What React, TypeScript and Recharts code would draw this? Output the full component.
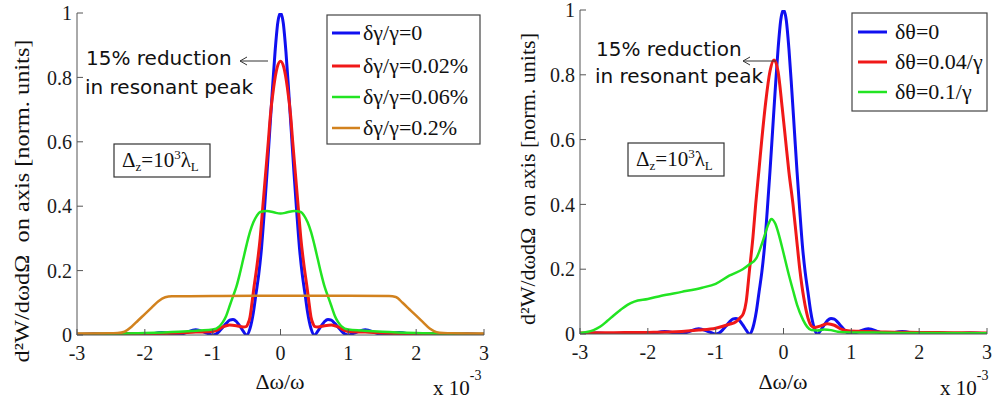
import React from 'react';
import { LineChart, Line, XAxis, YAxis } from 'recharts';

// tick values
const xTicks = [-3, -2, -1, 0, 1, 2, 3];
const yTicks = [0, 0.2, 0.4, 0.6, 0.8, 1];

// [Δω/ω (x1e-3), normalized intensity]
const noSpread: number[][] = [
  [-3, 0], [-2.75, 0.003], [-2.5, 0], [-2.25, 0.005], [-2, 0], [-1.75, 0.008], [-1.5, 0], [-1.4, 0.007],
  [-1.25, 0.016], [-1.1, 0.007], [-1, 0], [-0.95, 0.003], [-0.9, 0.012], [-0.85, 0.024], [-0.8, 0.036],
  [-0.75, 0.046], [-0.7, 0.048], [-0.65, 0.042], [-0.6, 0.028], [-0.55, 0.012], [-0.5, 0], [-0.45, 0.02],
  [-0.4, 0.07], [-0.36, 0.13], [-0.32, 0.19], [-0.28, 0.27], [-0.24, 0.38], [-0.2, 0.5], [-0.16, 0.63],
  [-0.12, 0.76], [-0.08, 0.88], [-0.04, 0.97], [0, 1], [0.04, 0.97], [0.08, 0.88], [0.12, 0.76], [0.16, 0.63],
  [0.2, 0.5], [0.24, 0.38], [0.28, 0.27], [0.32, 0.19], [0.36, 0.13], [0.4, 0.07], [0.45, 0.02], [0.5, 0],
  [0.55, 0.012], [0.6, 0.028], [0.65, 0.042], [0.7, 0.048], [0.75, 0.046], [0.8, 0.036], [0.85, 0.024],
  [0.9, 0.012], [0.95, 0.003], [1, 0], [1.1, 0.007], [1.25, 0.016], [1.4, 0.007], [1.5, 0], [1.75, 0.008],
  [2, 0], [2.25, 0.005], [2.5, 0], [2.75, 0.003], [3, 0],
];

const gamma002: number[][] = [
  [-3, 0.003], [-2.5, 0.004], [-2, 0.004], [-1.5, 0.006], [-1.25, 0.009], [-1.05, 0.01], [-0.95, 0.014],
  [-0.85, 0.025], [-0.75, 0.031], [-0.65, 0.029], [-0.55, 0.025], [-0.5, 0.027], [-0.48, 0.035], [-0.45, 0.055],
  [-0.42, 0.1], [-0.39, 0.15], [-0.35, 0.21], [-0.3, 0.3], [-0.26, 0.4], [-0.22, 0.5], [-0.18, 0.6],
  [-0.15, 0.68], [-0.1, 0.77], [-0.05, 0.83], [0, 0.85], [0.05, 0.83], [0.1, 0.77], [0.15, 0.68], [0.18, 0.6],
  [0.22, 0.5], [0.26, 0.4], [0.3, 0.3], [0.35, 0.21], [0.39, 0.15], [0.42, 0.1], [0.45, 0.055], [0.48, 0.035],
  [0.5, 0.027], [0.55, 0.025], [0.65, 0.029], [0.75, 0.031], [0.85, 0.025], [0.95, 0.014], [1.05, 0.01],
  [1.25, 0.009], [1.5, 0.006], [2, 0.004], [2.5, 0.004], [3, 0.003],
];

const gamma006: number[][] = [
  [-3, 0.003], [-2.5, 0.004], [-2, 0.006], [-1.5, 0.01], [-1.2, 0.014], [-1, 0.017], [-0.9, 0.027],
  [-0.85, 0.04], [-0.8, 0.06], [-0.75, 0.09], [-0.7, 0.12], [-0.65, 0.15], [-0.6, 0.19], [-0.55, 0.235],
  [-0.5, 0.28], [-0.45, 0.32], [-0.4, 0.35], [-0.35, 0.37], [-0.3, 0.382], [-0.2, 0.385], [-0.1, 0.381],
  [0, 0.377], [0.1, 0.381], [0.2, 0.385], [0.3, 0.382], [0.35, 0.37], [0.4, 0.35], [0.45, 0.32], [0.5, 0.28],
  [0.55, 0.235], [0.6, 0.19], [0.65, 0.15], [0.7, 0.12], [0.75, 0.09], [0.8, 0.06], [0.85, 0.04], [0.9, 0.027],
  [1, 0.017], [1.2, 0.014], [1.5, 0.01], [2, 0.006], [2.5, 0.004], [3, 0.003],
];

const gamma02: number[][] = [
  [-3, 0.004], [-2.6, 0.005], [-2.4, 0.006], [-2.3, 0.01], [-2.2, 0.025], [-2.1, 0.045], [-2, 0.065],
  [-1.9, 0.085], [-1.8, 0.105], [-1.7, 0.117], [-1.6, 0.12], [-1, 0.121], [0, 0.122], [1, 0.122],
  [1.6, 0.121], [1.7, 0.118], [1.8, 0.1], [1.9, 0.08], [2, 0.06], [2.1, 0.04], [2.2, 0.02], [2.3, 0.009],
  [2.4, 0.006], [2.6, 0.005], [3, 0.004],
];

const theta004: number[][] = [
  [-3, 0.003], [-2.5, 0.004], [-2, 0.005], [-1.5, 0.008], [-1.25, 0.012], [-1, 0.018], [-0.8, 0.03],
  [-0.7, 0.038], [-0.64, 0.05], [-0.59, 0.064], [-0.55, 0.1], [-0.5, 0.2], [-0.45, 0.3], [-0.41, 0.4],
  [-0.36, 0.51], [-0.32, 0.6], [-0.26, 0.72], [-0.2, 0.81], [-0.14, 0.846], [-0.08, 0.81], [-0.02, 0.7],
  [0.03, 0.6], [0.08, 0.5], [0.14, 0.4], [0.19, 0.3], [0.24, 0.2], [0.3, 0.11], [0.36, 0.05], [0.41, 0.025],
  [0.45, 0.02], [0.55, 0.025], [0.65, 0.032], [0.75, 0.027], [0.85, 0.015], [0.95, 0.01], [1.2, 0.008],
  [1.5, 0.006], [2, 0.005], [2.5, 0.004], [3, 0.003],
];

const theta01: number[][] = [
  [-3, 0.003], [-2.9, 0.006], [-2.8, 0.012], [-2.7, 0.023], [-2.6, 0.04], [-2.5, 0.058], [-2.4, 0.075],
  [-2.3, 0.09], [-2.2, 0.1], [-2, 0.108], [-1.8, 0.118], [-1.5, 0.13], [-1.2, 0.143], [-1, 0.155],
  [-0.8, 0.18], [-0.6, 0.2], [-0.5, 0.215], [-0.4, 0.234], [-0.3, 0.29], [-0.22, 0.34], [-0.18, 0.355],
  [-0.12, 0.34], [-0.06, 0.3], [0, 0.25], [0.07, 0.19], [0.14, 0.135], [0.2, 0.09], [0.29, 0.043],
  [0.35, 0.022], [0.41, 0.012], [0.5, 0.011], [0.6, 0.014], [0.7, 0.012], [0.8, 0.007], [1, 0.005],
  [1.5, 0.004], [2, 0.003], [3, 0.002],
];

const leftNames = ['δγ/γ=0', 'δγ/γ=0.02%', 'δγ/γ=0.06%', 'δγ/γ=0.2%'];
const rightNames = ['δθ=0', 'δθ=0.04/γ', 'δθ=0.1/γ'];

const BLUE = '#1010f0';
const RED = '#f01818';
const GREEN = '#22e422';
const ORANGE = '#d2821e';

type Series = { name: string; data: number[][]; color: string; width: number };

const leftSeries: Series[] = [
  { name: leftNames[0], data: noSpread, color: BLUE, width: 3 },
  { name: leftNames[1], data: gamma002, color: RED, width: 3 },
  { name: leftNames[2], data: gamma006, color: GREEN, width: 2.5 },
  { name: leftNames[3], data: gamma02, color: ORANGE, width: 2.5 },
];

const rightSeries: Series[] = [
  { name: rightNames[0], data: noSpread, color: BLUE, width: 3 },
  { name: rightNames[1], data: theta004, color: RED, width: 3 },
  { name: rightNames[2], data: theta01, color: GREEN, width: 2.5 },
];

const SERIF = 'Liberation Serif, DejaVu Serif, serif';
const SANS = 'DejaVu Sans, Verdana, sans-serif';
const AXIS = '#555';

const toPts = (pairs: number[][]) => pairs.map(([x, y]) => ({ x, y }));

function axes(yWidth: number, xHeight: number) {
  const tickStyle = { fill: '#1a1a1a', fontSize: 20, fontFamily: SERIF, style: { fontFamily: SERIF } };
  return [
    <XAxis key="xb" type="number" dataKey="x" domain={[-3, 3]} ticks={xTicks} interval={0} allowDataOverflow
      height={xHeight} tickSize={-6} tickMargin={17} stroke={AXIS} tick={tickStyle} />,
    <XAxis key="xt" xAxisId="top" orientation="top" type="number" dataKey="x" domain={[-3, 3]} ticks={xTicks}
      interval={0} allowDataOverflow height={0} tickSize={-6} tick={false} stroke={AXIS} />,
    <YAxis key="yl" type="number" domain={[0, 1]} ticks={yTicks} interval={0} allowDataOverflow width={yWidth}
      tickSize={-6} tickMargin={11} stroke={AXIS} tick={tickStyle} />,
    <YAxis key="yr" yAxisId="right" orientation="right" type="number" domain={[0, 1]} ticks={yTicks} interval={0}
      allowDataOverflow width={0} tickSize={-6} tick={false} stroke={AXIS} />,
  ];
}

function Legend({ series, x, y, w, h, rowY, lineX, textX }: {
  series: Series[]; x: number; y: number; w: number; h: number; rowY: number[]; lineX: number[]; textX: number;
}) {
  return (
    <g>
      <rect x={x} y={y} width={w} height={h} fill="#fff" stroke="#444" strokeWidth={1.2} />
      {series.map((s, i) => (
        <g key={s.name}>
          <line x1={lineX[0]} x2={lineX[1]} y1={rowY[i]} y2={rowY[i]} stroke={s.color} strokeWidth={s.width} />
          <text x={textX} y={rowY[i] + 7} style={{ fontFamily: SERIF, fontSize: 22 }} fill="#111">{s.name}</text>
        </g>
      ))}
    </g>
  );
}

function DeltaBox({ x, y }: { x: number; y: number }) {
  return (
    <g>
      <rect x={x} y={y} width={96} height={33} fill="#fff" stroke="#333" strokeWidth={1.2} />
      <text x={x + 8} y={y + 23} style={{ fontFamily: SERIF, fontSize: 21 }} fill="#111">
        Δ<tspan fontSize={13} dy={4}>z</tspan><tspan dy={-4}>=10</tspan>
        <tspan fontSize={13} dy={-8}>3</tspan><tspan dy={8}>λ</tspan>
        <tspan fontSize={13} dy={4}>L</tspan>
      </text>
    </g>
  );
}

function Annotation({ x, y1, y2, ax1, ax2, ay }: { x: number; y1: number; y2: number; ax1: number; ax2: number; ay: number }) {
  return (
    <g style={{ fontFamily: SANS, fontSize: 20 }} fill="#111">
      <text x={x} y={y1}>15% reduction</text>
      <text x={x - 1} y={y2}>in resonant peak</text>
      <line x1={ax1} x2={ax2} y1={ay} y2={ay} stroke="#333" strokeWidth={1} />
      <polyline points={`${ax1 + 7},${ay - 4} ${ax1},${ay} ${ax1 + 7},${ay + 4}`} fill="none" stroke="#333" strokeWidth={1} />
    </g>
  );
}

function AxisTexts({ yx, yy, yLen, xx, expX, base }: { yx: number; yy: number; yLen: number; xx: number; expX: number; base: number }) {
  return (
    <g style={{ fontFamily: SERIF }} fill="#111">
      <text x={yx} y={yy} fontSize={21} textAnchor="middle" transform={`rotate(-90 ${yx} ${yy})`}
        textLength={yLen} lengthAdjust="spacingAndGlyphs" style={{ whiteSpace: 'pre', fontFamily: SERIF }}>
        {'d²W/dωdΩ  on axis [norm. units]'}
      </text>
      <text x={xx} y={base - 6} fontSize={22} textAnchor="middle">Δω/ω</text>
      <text x={expX} y={base} fontSize={21}>
        x 10<tspan fontSize={14} dy={-15}>-3</tspan>
      </text>
    </g>
  );
}

function Panel({ left, width, margin, yWidth, xHeight, series, children }: {
  left: number; width: number; margin: { top: number; right: number; bottom: number; left: number };
  yWidth: number; xHeight: number; series: Series[]; children: React.ReactNode;
}) {
  return (
    <div style={{ position: 'absolute', left, top: 0, width, height: 404 }}>
      <LineChart width={width} height={404} margin={margin} style={{ fontFamily: SERIF }}>
        {axes(yWidth, xHeight)}
        {series.map((s) => (
          <Line key={s.name} name={s.name} data={toPts(s.data)} dataKey="y" type="monotone" stroke={s.color}
            strokeWidth={s.width} dot={false} activeDot={false} isAnimationActive={false} />
        ))}
      </LineChart>
      <svg width={width} height={404} style={{ position: 'absolute', left: 0, top: 0, pointerEvents: 'none' }}>
        {children}
      </svg>
    </div>
  );
}

export default function App() {
  return (
    <div style={{ position: 'absolute', left: 0, top: 0, width: 993, height: 404, background: '#fff', overflow: 'hidden', fontFamily: SERIF }}>
      <Panel left={0} width={500} margin={{ top: 13, right: 16, bottom: 29, left: 0 }} yWidth={77} xHeight={40}
        series={leftSeries}>
        <Annotation x={86} y1={65} y2={94} ax1={240} ax2={268} ay={61} />
        <DeltaBox x={114} y={144} />
        <Legend series={leftSeries} x={327} y={15} w={153} h={129} rowY={[33, 66, 97, 128]} lineX={[332, 360]} textX={363} />
        <AxisTexts yx={29} yy={201} yLen={323} xx={280} expX={433} base={395} />
      </Panel>
      <Panel left={500} width={493} margin={{ top: 10, right: 6, bottom: 30, left: 0 }} yWidth={80} xHeight={40}
        series={rightSeries}>
        <Annotation x={96} y1={56} y2={83} ax1={243} ax2={276} ay={61} />
        <DeltaBox x={128} y={143} />
        <Legend series={rightSeries} x={352} y={13} w={135} h={98} rowY={[32, 62, 92]} lineX={[358, 387]} textX={395} />
        <AxisTexts yx={35} yy={179} yLen={292} xx={283} expX={440} base={395} />
      </Panel>
    </div>
  );
}
